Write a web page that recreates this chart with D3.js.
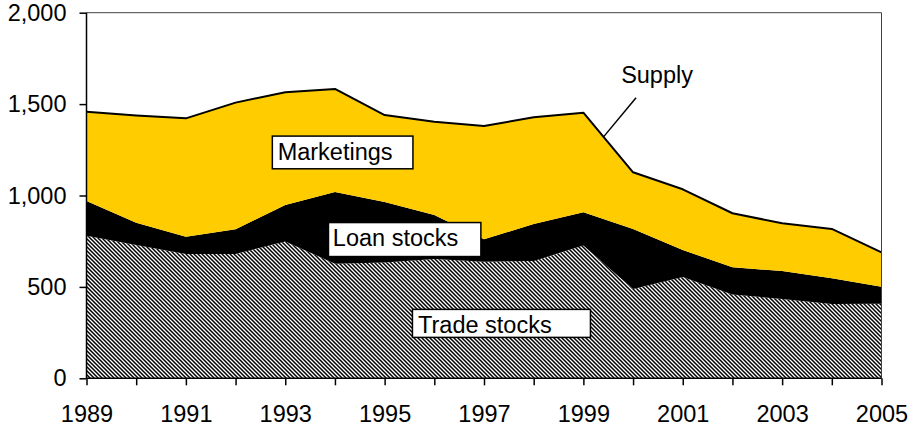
<!DOCTYPE html>
<html>
<head>
<meta charset="utf-8">
<script src="https://cdn.jsdelivr.net/npm/d3@7"></script>
<style>
  body { margin: 0; background: #fff; }
  svg { display: block; font-family: Arial, "Liberation Sans", sans-serif; }
</style>
</head>
<body>
<div id="chart"></div>
<script>
// data
var years = [1989, 1990, 1991, 1992, 1993, 1994, 1995, 1996, 1997, 1998, 1999, 2000, 2001, 2002, 2003, 2004, 2005];
var tradeStocks = [780, 729, 680, 680, 749, 627, 633, 653, 638, 642, 726, 489, 554, 458, 434, 407, 408];
var loanStocks  = [190, 122, 95, 135, 199, 392, 331, 240, 122, 202, 182, 328, 148, 149, 153, 140, 93];
var marketings  = [488, 586, 647, 693, 617, 564, 476, 511, 620, 584, 545, 310, 332, 296, 261, 270, 188];
var yTicks = [0, 500, 1000, 1500, 2000];
var xLabelYears = [1989, 1991, 1993, 1995, 1997, 1999, 2001, 2003, 2005];

var W = 909, H = 430;
var mLeft = 86.5, mRight = 881.5, mTop = 12.7, mBottom = 378.3;
var fontSize = 23.5;

var svg = d3.select('#chart').append('svg')
  .attr('width', W)
  .attr('height', H);

var x = d3.scaleLinear().domain([1989, 2005]).range([mLeft, mRight]);
var y = d3.scaleLinear().domain([0, 2000]).range([mBottom, mTop]);

// hatch pattern for trade stocks
var defs = svg.append('defs');
var pat = defs.append('pattern')
  .attr('id', 'hatch')
  .attr('patternUnits', 'userSpaceOnUse')
  .attr('width', 4).attr('height', 4);
pat.append('rect').attr('width', 4).attr('height', 4).attr('fill', '#fff');
pat.append('path')
  .attr('d', 'M-1,-1 L5,5 M3,-1 L5,1 M-1,3 L1,5')
  .attr('stroke', '#000')
  .attr('stroke-width', 1.5);

var table = years.map(function(yr, i) {
  return { year: yr, trade: tradeStocks[i], loan: loanStocks[i], mkt: marketings[i] };
});

var stack = d3.stack().keys(['trade', 'loan', 'mkt']);
var layers = stack(table);
var fills = { trade: 'url(#hatch)', loan: '#000', mkt: '#ffcc00' };

var area = d3.area()
  .x(function(d) { return x(d.data.year); })
  .y0(function(d) { return y(d[0]); })
  .y1(function(d) { return y(d[1]); });

svg.selectAll('.layer')
  .data(layers)
  .enter().append('path')
  .attr('class', 'layer')
  .attr('d', area)
  .attr('fill', function(d) { return fills[d.key]; });

// supply line = total
var supply = d3.line()
  .x(function(d) { return x(d.data.year); })
  .y(function(d) { return y(d[1]); });
svg.append('path')
  .datum(layers[2])
  .attr('d', supply)
  .attr('fill', 'none')
  .attr('stroke', '#000')
  .attr('stroke-width', 2)
  .attr('stroke-linejoin', 'round');

// frame (top + right)
svg.append('path')
  .attr('d', 'M' + mLeft + ',' + mTop + 'H' + mRight + 'V' + mBottom)
  .attr('fill', 'none')
  .attr('stroke', '#404040')
  .attr('stroke-width', 1);

// axes
var yAxis = d3.axisLeft(y)
  .tickValues(yTicks)
  .tickSize(7)
  .tickPadding(13)
  .tickFormat(d3.format(','));
var gy = svg.append('g')
  .attr('transform', 'translate(' + mLeft + ',0)')
  .call(yAxis);

var xAxis = d3.axisBottom(x)
  .tickValues(years)
  .tickSize(7)
  .tickPadding(20)
  .tickFormat(function(d) { return xLabelYears.indexOf(d) >= 0 ? d : ''; });
var gx = svg.append('g')
  .attr('transform', 'translate(0,' + mBottom + ')')
  .call(xAxis);

[gx, gy].forEach(function(g) {
  g.selectAll('text').attr('font-size', fontSize).attr('fill', '#000')
    .attr('font-family', 'Arial, "Liberation Sans", sans-serif');
  g.selectAll('line').attr('stroke', '#000').attr('stroke-width', 1.5);
  g.select('.domain').attr('stroke', '#000').attr('stroke-width', 1.5);
});
gx.select('.domain').attr('d', 'M' + mLeft + ',0H' + mRight);
gy.select('.domain').attr('d', 'M0,' + mBottom + 'V' + mTop);

// boxed labels
var labels = [
  { text: 'Marketings',   yr: 1992.74, v: 1325, w: 140.6, h: 32.7, tx: 5.3, ty: 23.5 },
  { text: 'Loan stocks',  yr: 1993.87, v: 852,  w: 152.4, h: 34,   tx: 4.4, ty: 23.7 },
  { text: 'Trade stocks', yr: 1995.56, v: 377,  w: 178,   h: 28,   tx: 5.6, ty: 24 }
];
labels.forEach(function(l) {
  var g = svg.append('g').attr('transform', 'translate(' + x(l.yr) + ',' + y(l.v) + ')');
  g.append('rect')
    .attr('width', l.w).attr('height', l.h)
    .attr('fill', '#fff').attr('stroke', '#000').attr('stroke-width', 1.5);
  g.append('text')
    .attr('x', l.tx).attr('y', l.ty)
    .attr('font-size', fontSize)
    .text(l.text);
});

// supply callout
svg.append('line')
  .attr('x1', x(2000.06)).attr('y1', y(1535))
  .attr('x2', x(1999.41)).attr('y2', y(1322))
  .attr('stroke', '#000').attr('stroke-width', 1.5);
svg.append('text')
  .attr('x', x(1999.76)).attr('y', y(1617))
  .attr('font-size', fontSize)
  .text('Supply');
</script>
</body>
</html>
